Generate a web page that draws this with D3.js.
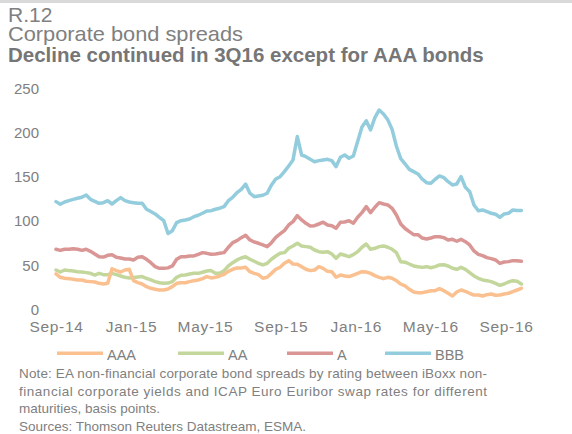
<!DOCTYPE html>
<html>
<head>
<meta charset="utf-8">
<script src="https://cdn.jsdelivr.net/npm/d3@7"></script>
<style>
  html, body { margin: 0; padding: 0; background: #fff; }
  svg { display: block; font-family: "Liberation Sans", Arial, sans-serif; }
</style>
</head>
<body>
<svg id="chart" width="572" height="434"></svg>
<script>
// Weekly observations (Mondays), Sep 2014 - Sep 2016, spreads in basis points
const startDate = new Date(2014, 8, 1);
const endDate = new Date(2016, 8, 27);

const seriesNames = ["AAA", "AA", "A", "BBB"];
const seriesColors = ["#FAC08F", "#C3D69B", "#D99694", "#93CDDD"];

const aaa = [40.1,36.3,35.2,34.8,34,33.3,33.3,31.8,31.4,31,29.5,28.7,29.5,46,43.9,42.3,44.6,45.4,32.5,30.2,
  28.7,25.7,23.8,22.7,21.9,21.9,23,25.7,29.5,30.2,30.2,31.4,32.5,33.3,34.8,37.1,35.6,36.3,37.8,39.7,
  43.1,45.4,46.9,46.9,47.7,42.7,40.8,39.3,35.2,36.3,40.8,45.4,47.7,52.2,55.2,51.4,51.1,48.4,45.4,43.9,
  44.6,48.4,46.5,43.1,42.7,36.3,38.9,37.8,37.1,38.9,40.8,42.7,42.3,40.8,38.2,36.3,34.8,36.3,35.2,32.5,
  28.7,26.5,22.7,19.6,18.9,18.9,20,21.1,21.1,23.4,21.1,18.2,15.1,19.6,21.9,20.4,18.2,16.2,16.2,15.1,
  16.6,17.4,15.9,16.2,17.4,18.2,20,21.9,23.8];

const aa = [44.6,42.3,44.6,43.9,43.5,42.7,42.3,41.6,40.8,38.9,40.8,39.3,39.3,40.8,39.3,37.8,36.3,35.6,36,36.7,
  37.1,35.2,33.3,31.4,30.2,29.5,29.8,31.4,36.3,38.6,38.9,40.1,40.8,40.8,42,43.5,43.9,40.8,40.8,43.9,
  49.2,52.9,56,58.2,59.7,56.8,54.5,52.2,50.3,52.2,56.8,60.5,63.6,64.3,69.2,71.9,74.9,71.9,71.1,70.4,
  67.3,65.4,64.7,65.4,62.8,57.9,62.8,61.3,59.7,62,65.4,70.4,74.1,68.1,69.2,71.1,71.9,70.4,68.1,64.3,
  54,53.5,51.4,49.2,48.4,47.6,48.4,47.2,48.4,50.3,50.6,49.2,46.5,45.4,47.6,45.4,41.6,37.8,35.2,33.3,
  32.5,31.4,29.5,27.2,28.7,31,32.5,31.8,28.7];

const a = [68.1,66.9,68.1,68.1,68.8,68.1,66.9,68.1,65.8,62.8,59.7,59.3,61.3,62,59,58.2,57.1,57.1,56,59,
  59.7,56.7,52.9,48.4,46.5,46.5,47,49.2,56.8,59.7,59.7,60.5,60.5,62.4,64.3,63.5,62.4,62.8,63.5,64.3,
  70.4,75.6,77.9,81.3,84,78.7,76.4,74.9,73,71.1,75.6,81.7,85.5,89.3,95.7,99.5,106.3,101.4,97.6,94.6,
  94.9,96.8,98.8,95.7,94.9,91.9,98.8,99.1,100.6,97.6,104.4,109.7,116.5,109.7,115.8,121,119.5,118.4,114.6,107,
  96.8,91.7,88.1,84.7,84.7,80.9,79.8,80.9,82.4,82.4,81.3,78.7,79.4,77.2,79.4,76.7,73,66.2,62.4,60.9,
  58.6,57.5,56,52.2,53.7,54.1,55.2,55.2,54.5];

const bbb = [122.2,119.2,121.8,123.3,124.8,126,127.1,129.7,124.8,122.5,120.3,121,123.3,119.5,123.3,126.7,123.3,121.8,121,120.3,
  120.3,113.5,110.9,108.2,104.4,100.6,86,89.2,98.3,100.6,101.4,102.5,105.1,106.7,109,111.6,111.9,113.5,114.7,116.5,
  123.3,127.1,132.4,136.2,142.2,131.7,127.8,128.6,129.4,131.7,141.1,147.9,150.5,156.2,162.7,169.5,196,175.1,173.2,170.2,
  167.5,168.7,169.5,170.2,168.7,161.9,172.5,175.1,171.4,174,190.3,207,214,203.5,217.5,226.2,221.7,215,204,185,
  171,165,158.8,156.2,153.6,147.6,143.7,143,147.6,151.3,149.4,144.8,141.1,142.2,150.5,138.5,133.5,118.4,111.9,112.7,
  110.8,109,107.8,104.4,108.2,109,112.7,112,112];

const yTicks = [0, 50, 100, 150, 200, 250];
const xTickDates = [new Date(2014,8,1), new Date(2015,0,1), new Date(2015,4,1), new Date(2015,8,1),
                    new Date(2016,0,1), new Date(2016,4,1), new Date(2016,8,1)];

const noteLines = [
  "Note: EA non-financial corporate bond spreads by rating between iBoxx non-",
  "financial corporate yields and ICAP Euro Euribor swap rates for different",
  "maturities, basis points.",
  "Sources: Thomson Reuters Datastream, ESMA."
];

const dates = d3.timeMonday.range(startDate, endDate);
const seriesValues = [aaa, aa, a, bbb];

const svg = d3.select("#chart");
const grey = "#808080";

// thin band across the top
svg.append("rect").attr("x", 0).attr("y", 0).attr("width", 572).attr("height", 3).attr("fill", "#d9d9d9");

// headings
svg.append("text").attr("x", 8).attr("y", 21.5).attr("font-size", 21).attr("fill", grey).text("R.12");
svg.append("text").attr("x", 8).attr("y", 40.5).attr("font-size", 21).attr("fill", grey)
  .attr("textLength", 235).attr("lengthAdjust", "spacingAndGlyphs").text("Corporate bond spreads");
svg.append("text").attr("x", 8).attr("y", 61.5).attr("font-size", 20.5).attr("font-weight", "bold")
  .attr("fill", "#767676").text("Decline continued in 3Q16 except for AAA bonds");

// scales
const x = d3.scaleTime().domain([new Date(2014,8,1), new Date(2016,8,1)]).range([56, 506]);
const y = d3.scaleLinear().domain([0, 250]).range([309.3, 89]);

// y axis (labels only)
const yAxis = svg.append("g").attr("transform", "translate(42,0)")
  .call(d3.axisLeft(y).tickValues(yTicks).tickSize(0).tickPadding(3));
yAxis.select(".domain").remove();
yAxis.selectAll("text").attr("font-size", 15).attr("fill", grey).attr("font-family", null);

// x axis (labels only)
const xAxis = svg.append("g").attr("transform", "translate(0,309.3)")
  .call(d3.axisBottom(x).tickValues(xTickDates).tickSize(0).tickPadding(11.5).tickFormat(d3.timeFormat("%b-%y")));
xAxis.select(".domain").remove();
xAxis.selectAll("text").attr("font-size", 15.5).attr("letter-spacing", 0.7).attr("fill", grey).attr("font-family", null);

// series lines, BBB drawn first so AAA sits on top
const line = d3.line().x((d, i) => x(dates[i])).y(d => y(d));
const order = [3, 2, 1, 0];
svg.append("g").selectAll("path").data(order).join("path")
  .attr("d", k => line(seriesValues[k]))
  .attr("fill", "none")
  .attr("stroke", k => seriesColors[k])
  .attr("stroke-width", 3.5)
  .attr("stroke-linejoin", "round")
  .attr("stroke-linecap", "round");

// legend
const legendX = [57, 178, 287, 385];
const leg = svg.append("g").selectAll("g").data(seriesNames).join("g")
  .attr("transform", (d, i) => `translate(${legendX[i]},353.3)`);
leg.append("line").attr("x1", 0).attr("x2", 46).attr("y1", 0).attr("y2", 0)
  .attr("stroke", (d, i) => seriesColors[i]).attr("stroke-width", 3.5);
leg.append("text").attr("x", 50).attr("y", 6.5).attr("font-size", 14.5).attr("fill", grey).text(d => d);

// note and sources
const noteBase = [378, 395.5, 412.5, 431];
noteLines.forEach((t, i) => {
  const el = svg.append("text").attr("x", 19).attr("y", noteBase[i]).attr("font-size", 13.5).attr("fill", grey).text(t);
  if (i < 2) el.attr("textLength", 468).attr("lengthAdjust", "spacing");
});
</script>
</body>
</html>
